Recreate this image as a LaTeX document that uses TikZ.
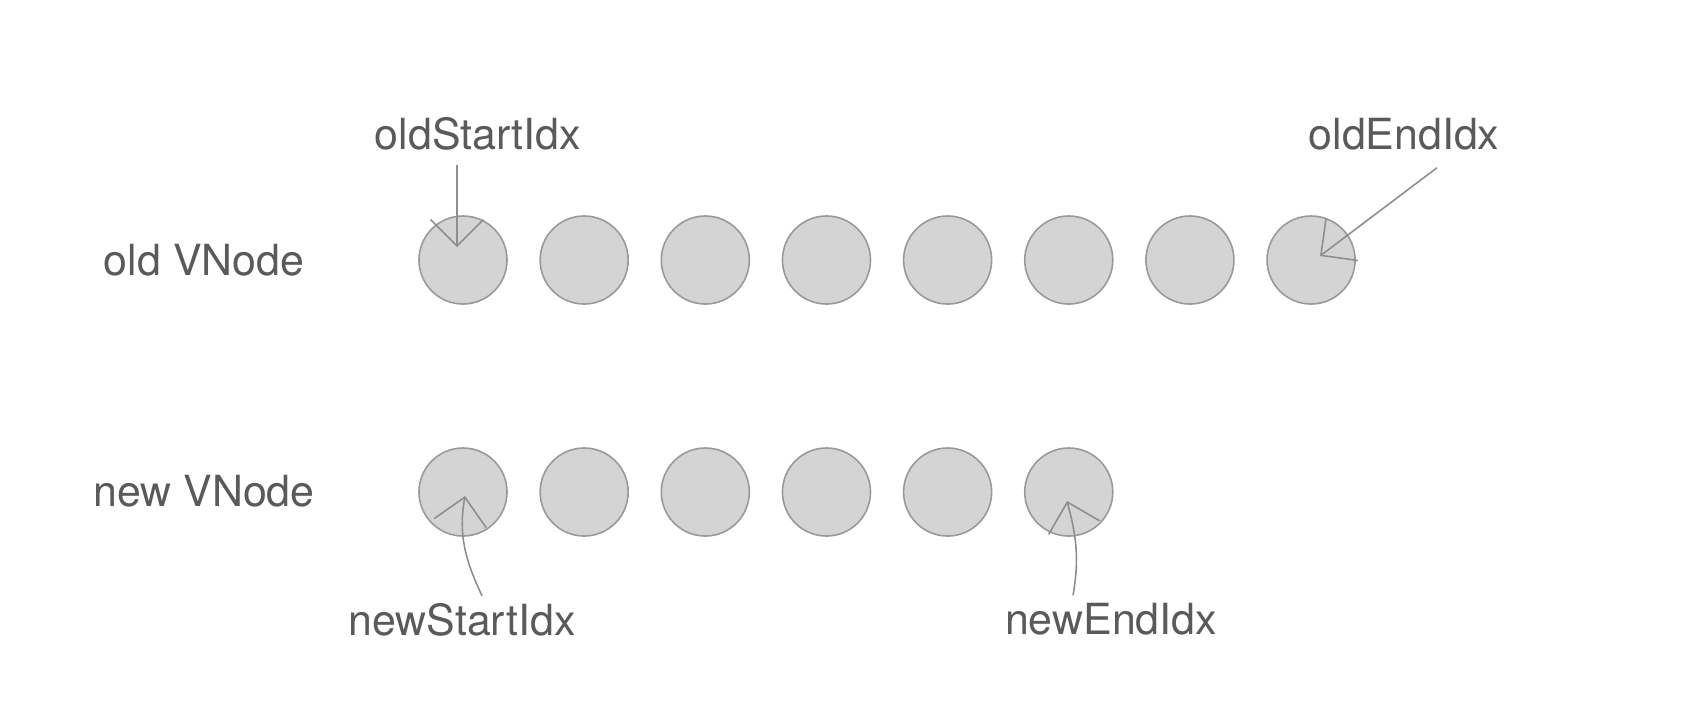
\documentclass[tikz,border=0pt]{standalone}
\usepackage{fontspec}
\setmainfont{TeX Gyre Heros}
\usepackage{tikz}
\usepackage{xcolor}
\usetikzlibrary{arrows.meta, positioning}

\definecolor{txtgray}{HTML}{5A5A5A}
\definecolor{circfill}{HTML}{D4D4D4}
\definecolor{circline}{HTML}{999999}
\definecolor{ptrgray}{HTML}{8E8E8E}

\begin{document}
\begin{tikzpicture}[
    x=0.01cm, y=-0.01cm,
    vnode/.style={circle, draw=circline, fill=circfill, line width=0.45pt,
                  minimum size=0.88cm, inner sep=0pt},
    lbl/.style={text=txtgray, font=\fontsize{12.2}{14.6}\selectfont, inner sep=2pt},
    ptr/.style={draw=ptrgray, line width=0.45pt,
                -{Straight Barb[length=7.5pt, width=15pt]}}
]
\fill[white] (0,0) rectangle (1688,708);

% ---- old VNode row ----
\node[lbl] (oldlbl) at (204,260) {old VNode};
\node[vnode] (old1) at (463,260) {};
\foreach \i [count=\prev from 1] in {2,...,8}
    \node[vnode, right=0.315cm of old\prev] (old\i) {};

% ---- new VNode row ----
\node[lbl] (newlbl) at (204,491) {new VNode};
\node[vnode] (new1) at (463,492) {};
\foreach \i [count=\prev from 1] in {2,...,6}
    \node[vnode, right=0.315cm of new\prev] (new\i) {};

% ---- index labels ----
\node[lbl] (os) at (478,134) {oldStartIdx};
\node[lbl] (oe) at (1404,134) {oldEndIdx};
\node[lbl] (ns) at (462,620) {newStartIdx};
\node[lbl] (ne) at (1111,619) {newEndIdx};

% ---- arrow tips inside the circles ----
\coordinate (osTip) at (457,247);
\coordinate (oeTip) at (1320,256);
\coordinate (nsTip) at (465,496);
\coordinate (neTip) at (1067,501);

% ======== Pointers ========
\draw[ptr] ([xshift=-0.21cm, yshift=-0.07cm]os.south) -- (osTip);
\draw[ptr] ([xshift=0.33cm, yshift=-0.1cm]oe.south) -- (oeTip);
\draw[ptr] ([xshift=0.2cm]ns.north) to[out=115, in=-100] (nsTip);
\draw[ptr] ([xshift=-0.38cm]ne.north) to[out=80, in=-75] (neTip);

\end{tikzpicture}
\end{document}
